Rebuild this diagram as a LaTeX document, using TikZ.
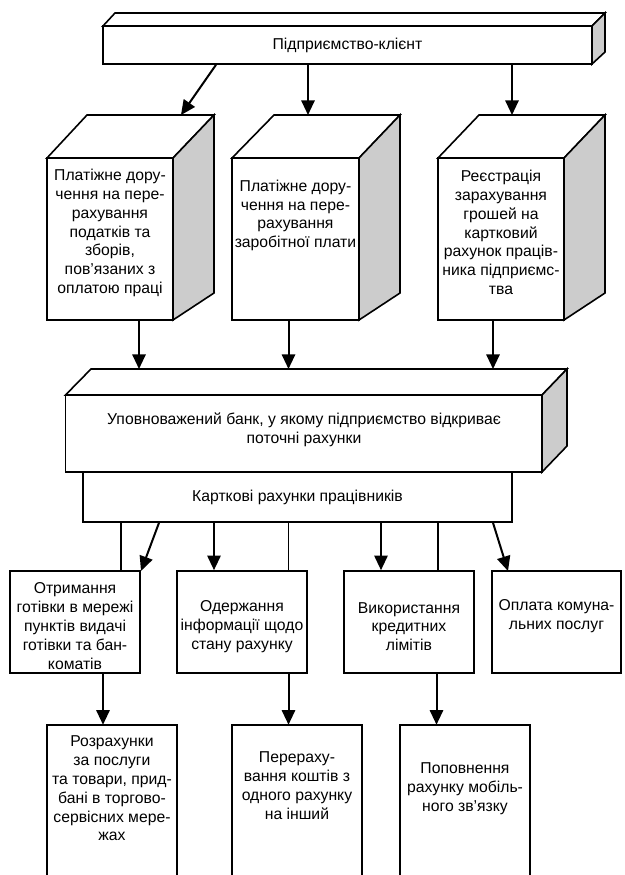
\documentclass[tikz,border=0pt]{standalone}
\usepackage{fontspec}
\setmainfont{Liberation Sans}
\usetikzlibrary{arrows.meta,fit}
\begin{document}
\begin{tikzpicture}[x=0.75pt,y=-0.75pt,
  frame/.style={inner sep=0pt,draw=black,line width=1.2pt,fill=white},
  openframe/.style={inner sep=0pt},
  topface/.style={draw=black,line width=1.2pt,fill=white,line join=miter},
  sideface/.style={draw=black,line width=1.2pt,fill=black!20,line join=miter},
  txt/.style={align=center,font=\fontsize{11.8pt}{14.1pt}\selectfont,inner sep=0pt},
  arr/.style={line width=1.5pt,-{Triangle[length=11pt,width=10pt]}},
  link/.style={line width=1.1pt},
]
\useasboundingbox (0,0) rectangle (625,875);

% ---------- enterprise (top bar) ----------
\draw[topface] (103,26) -- (115,13) -- (605,13) -- (592,26) -- cycle;
\draw[sideface] (592,26) -- (605,13) -- (605,52) -- (592,64) -- cycle;
\node[frame,fit={(103,26) (592,64)}] (bar) {};
\node[txt] (bartxt) at (347.5,45) {Підприємство-клієнт};

% ---------- three documents (3D boxes) ----------
\draw[topface] (47,158) -- (87,115) -- (214,115) -- (173,158) -- cycle;
\draw[sideface] (173,158) -- (214,115) -- (214,293) -- (173,320) -- cycle;
\node[frame,fit={(47,158) (173,320)}] (d1) {};
\node[txt] (d1txt) at (110,233) {Платіжне дору-\\чення на пере-\\рахування\\податків та\\зборів,\\пов’язаних з\\оплатою праці};

\draw[topface] (232,158) -- (274,115) -- (400,115) -- (359,158) -- cycle;
\draw[sideface] (359,158) -- (400,115) -- (400,293) -- (359,320) -- cycle;
\node[frame,fit={(232,158) (359,320)}] (d2) {};
\node[txt] (d2txt) at (295.5,215.5) {Платіжне дору-\\чення на пере-\\рахування\\заробітної плати};

\draw[topface] (438,158) -- (479,115) -- (605,115) -- (564,158) -- cycle;
\draw[sideface] (564,158) -- (605,115) -- (605,293) -- (564,320) -- cycle;
\node[frame,fit={(438,158) (564,320)}] (d3) {};
\node[txt] (d3txt) at (501,232.5) {Реєстрація\\зарахування\\грошей на\\картковий\\рахунок праців-\\ника підприємс-\\тва};

% ---------- authorised bank ----------
\draw[topface] (65.5,395) -- (91,369) -- (567,369) -- (542,395) -- cycle;
\draw[sideface] (542,395) -- (567,369) -- (567,446) -- (542,472) -- cycle;
\node[frame,fit={(65.5,395) (542,472)}] (bank) {};
\node[txt] (banktxt) at (304,429.5) {Уповноважений банк, у якому підприємство відкриває\\поточні рахунки};

% ---------- card accounts ----------
\node[frame,fit={(83,472) (512,522)}] (cards) {};
\node[txt] (cardstxt) at (297.5,497) {Карткові рахунки працівників};

% ---------- services ----------
\node[frame,fit={(10,571) (140,673)}] (sa) {};
\node[txt] (satxt) at (75,626) {Отримання\\готівки в мережі\\пунктів видачі\\готівки та бан-\\коматів};
\node[frame,fit={(177,571) (307,673)}] (sb) {};
\node[txt] (sbtxt) at (242,626.5) {Одержання\\інформації щодо\\стану рахунку};
\node[frame,fit={(344,571) (474,673)}] (sc) {};
\node[txt] (sctxt) at (409,626.5) {Використання\\кредитних\\лімітів};
\node[frame,fit={(492,571) (621,673)}] (sd) {};
\node[txt] (sdtxt) at (556.5,616.5) {Оплата комуна-\\льних послуг};

% ---------- further operations (open at the lower edge) ----------
\node[openframe,fit={(47,725) (177,880)}] (oe) {};
\node[openframe,fit={(232,725) (362,880)}] (of) {};
\node[openframe,fit={(400,725) (530,880)}] (og) {};
\foreach \b in {oe,of,og}
  \draw[line width=1.2pt,line join=miter] (\b.south west) -- (\b.north west) -- (\b.north east) -- (\b.south east);
\node[txt] (oetxt) at (112,788.5) {Розрахунки\\за послуги\\та товари, прид-\\бані в торгово-\\сервісних мере-\\жах};
\node[txt] (oftxt) at (297,785.5) {Перераху-\\вання коштів з\\одного рахунку\\на інший};
\node[txt] (ogtxt) at (465,789) {Поповнення\\рахунку мобіль-\\ного зв’язку};

% ---------- connector positions ----------
\coordinate (x216) at (216,0);
\coordinate (x308) at (308,0);
\coordinate (x512) at (512,0);
\coordinate (t1) at (181,115);
\coordinate (x139) at (139,0);
\coordinate (x288) at (288.5,0);
\coordinate (x493) at (493,0);
\coordinate (x121) at (121,0);
\coordinate (x159) at (159,0);
\coordinate (pa) at (141,571);
\coordinate (x214) at (214,0);
\coordinate (x381) at (381,0);
\coordinate (x438) at (438,0);
\coordinate (pd) at (508,571);
\coordinate (x103) at (103,0);
\coordinate (x436) at (436.5,0);
\coordinate (y115) at (0,115);
\coordinate (y369) at (0,369);

% enterprise -> documents
\draw[arr] (bar.south -| x216) -- (t1);
\draw[arr] (bar.south -| x308) -- (x308 |- y115);
\draw[arr] (bar.south -| x512) -- (x512 |- y115);

% documents -> bank
\draw[arr] (d1.south -| x139) -- (x139 |- y369);
\draw[arr] (d2.south -| x288) -- (x288 |- y369);
\draw[arr] (d3.south -| x493) -- (x493 |- y369);

% card accounts -> services
\draw[link] (cards.south -| x121) -- (sa.north -| x121);
\draw[arr] (cards.south -| x159) -- (pa);
\draw[arr] (cards.south -| x214) -- (sb.north -| x214);
\draw[link] (cards.south -| x288) -- (sb.north -| x288);
\draw[arr] (cards.south -| x381) -- (sc.north -| x381);
\draw[link] (cards.south -| x438) -- (sc.north -| x438);
\draw[arr] (cards.south -| x493) -- (pd);

% services -> further operations
\draw[arr] (sa.south -| x103) -- (oe.north -| x103);
\draw[arr] (sb.south -| x288) -- (of.north -| x288);
\draw[arr] (sc.south -| x436) -- (og.north -| x436);
\end{tikzpicture}
\end{document}
